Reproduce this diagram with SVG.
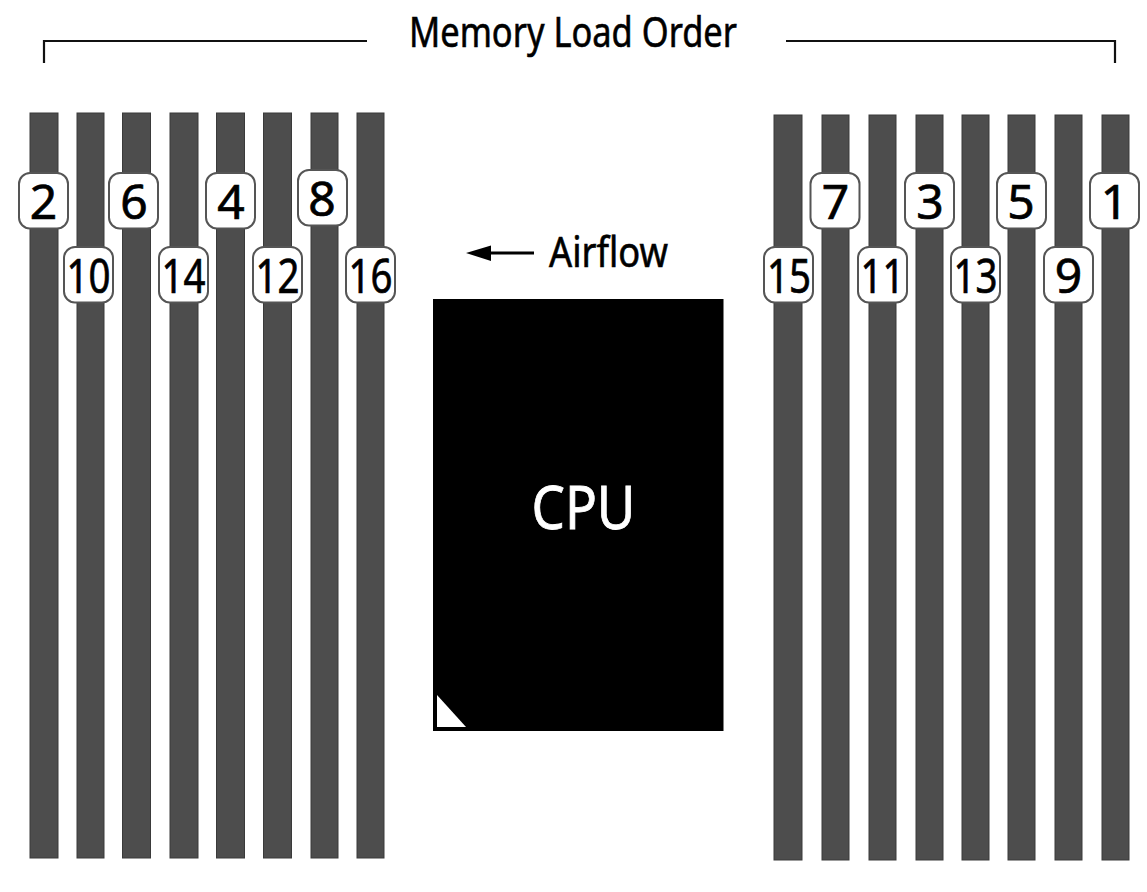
<svg xmlns="http://www.w3.org/2000/svg" width="1147" height="892" viewBox="0 0 1147 892">
<style>
.bar{fill:#4d4d4d;stroke:#3a3a3a;stroke-width:1}
.tag{fill:#fff;stroke:#555;stroke-width:2}
.num{font-family:"Noto Sans","Open Sans",sans-serif;font-size:48px;fill:#000;stroke:#000;stroke-width:.7;text-anchor:middle}
.lbl{font-family:"Noto Sans","Open Sans",sans-serif;fill:#000;stroke:#000;stroke-width:.6}
.ln{fill:none;stroke:#111;stroke-width:2.2}
</style>
<defs>
<g id="t"><rect class="tag" x="0" y="0" width="49" height="55.5" rx="11"/></g>
</defs>
<rect width="1147" height="892" fill="#fff"/>
<g id="bars-left">
<rect class="bar" x="30" y="113" width="28" height="745"/>
<rect class="bar" x="77" y="113" width="27" height="745"/>
<rect class="bar" x="122.500" y="113" width="28" height="745"/>
<rect class="bar" x="170" y="113" width="28" height="745"/>
<rect class="bar" x="216.500" y="113" width="28" height="745"/>
<rect class="bar" x="263.500" y="113" width="28" height="745"/>
<rect class="bar" x="311" y="113" width="27" height="745"/>
<rect class="bar" x="357" y="113" width="27" height="745"/>
</g>
<g id="bars-right">
<rect class="bar" x="774" y="115" width="28" height="745"/>
<rect class="bar" x="822" y="115" width="27" height="745"/>
<rect class="bar" x="869" y="115" width="27" height="745"/>
<rect class="bar" x="916" y="115" width="27" height="745"/>
<rect class="bar" x="962" y="115" width="27" height="745"/>
<rect class="bar" x="1008" y="115" width="27" height="745"/>
<rect class="bar" x="1055" y="115" width="27" height="745"/>
<rect class="bar" x="1102" y="115" width="27" height="745"/>
</g>
<g id="connectors">
<path class="ln" d="M44 63V41H367"/>
<path class="ln" d="M786 41H1115V63"/>
<path d="M534 253H491" fill="none" stroke="#000" stroke-width="3"/>
<polygon points="466,253 491,245.500 491,261" fill="#000"/>
</g>
<g id="title"><text class="lbl" x="409" y="47" font-size="41" textLength="328" lengthAdjust="spacingAndGlyphs">Memory Load Order</text></g>
<g id="airflow"><text class="lbl" x="549" y="267" font-size="41" textLength="119" lengthAdjust="spacingAndGlyphs">Airflow</text></g>
<g id="cpu">
<rect x="433" y="299" width="290.500" height="432" fill="#000"/>
<polygon points="437,695 466,727 437,727" fill="#fff"/>
<text x="583.500" y="529" font-family="'Noto Sans','Open Sans',sans-serif" font-size="60" fill="#fff" stroke="#fff" stroke-width=".8" text-anchor="middle" textLength="104" lengthAdjust="spacingAndGlyphs">CPU</text>
</g>
<g id="n2"><use href="#t" x="19" y="173"/><text class="num" x="43.500" y="219">2</text></g>
<g id="n10"><use href="#t" x="64" y="247"/><text class="num" x="88.500" y="293" textLength="44" lengthAdjust="spacingAndGlyphs">10</text></g>
<g id="n6"><use href="#t" x="109" y="173"/><text class="num" x="134" y="219">6</text></g>
<g id="n14"><use href="#t" x="159" y="247"/><text class="num" x="183.500" y="293" textLength="44" lengthAdjust="spacingAndGlyphs">14</text></g>
<g id="n4"><use href="#t" x="206" y="173"/><text class="num" x="231" y="219">4</text></g>
<g id="n12"><use href="#t" x="253" y="247"/><text class="num" x="277.500" y="293" textLength="44" lengthAdjust="spacingAndGlyphs">12</text></g>
<g id="n8"><use href="#t" x="298" y="170"/><text class="num" x="322" y="216">8</text></g>
<g id="n16"><use href="#t" x="346" y="247"/><text class="num" x="370.500" y="293" textLength="44" lengthAdjust="spacingAndGlyphs">16</text></g>
<g id="n15"><use href="#t" x="764" y="247"/><text class="num" x="789" y="293" textLength="44" lengthAdjust="spacingAndGlyphs">15</text></g>
<g id="n7"><use href="#t" x="810.500" y="173"/><text class="num" x="835.500" y="219">7</text></g>
<g id="n11"><use href="#t" x="858" y="247"/><text class="num" x="882.500" y="293" textLength="44" lengthAdjust="spacingAndGlyphs">11</text></g>
<g id="n3"><use href="#t" x="905" y="173"/><text class="num" x="930" y="219">3</text></g>
<g id="n13"><use href="#t" x="951" y="247"/><text class="num" x="975.500" y="293" textLength="44" lengthAdjust="spacingAndGlyphs">13</text></g>
<g id="n5"><use href="#t" x="997" y="173"/><text class="num" x="1021" y="219">5</text></g>
<g id="n9"><use href="#t" x="1044" y="247"/><text class="num" x="1068.500" y="293">9</text></g>
<g id="n1"><use href="#t" x="1090" y="173"/><text class="num" x="1114.500" y="219">1</text></g>
</svg>
